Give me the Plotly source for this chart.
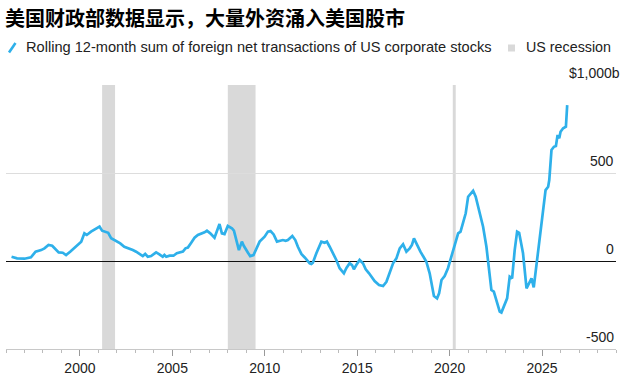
import plotly.graph_objects as go

# ---- data ----
years = [
    1996.30, 1996.60, 1997.00, 1997.35, 1997.60, 1997.90, 1998.08, 1998.30, 1998.50, 1998.70,
    1998.85, 1999.07, 1999.25, 1999.47, 1999.76, 2000.07, 2000.24, 2000.37, 2000.60, 2000.79,
    2000.93, 2001.06, 2001.20, 2001.38, 2001.53, 2001.69, 2001.87, 2002.05, 2002.18, 2002.40,
    2002.68, 2002.86, 2003.04, 2003.22, 2003.40, 2003.53, 2003.67, 2003.85, 2003.98, 2004.12,
    2004.30, 2004.48, 2004.57, 2004.67, 2004.85, 2005.06, 2005.24, 2005.42, 2005.57, 2005.71,
    2005.84, 2006.02, 2006.20, 2006.38, 2006.56, 2006.74, 2006.87, 2007.05, 2007.28, 2007.46,
    2007.55, 2007.68, 2007.82, 2008.00, 2008.22, 2008.33, 2008.46, 2008.60, 2008.76, 2008.87,
    2009.09, 2009.21, 2009.39, 2009.54, 2009.72, 2009.99, 2010.17, 2010.31, 2010.48, 2010.66,
    2010.84, 2010.98, 2011.13, 2011.25, 2011.49, 2011.65, 2011.79, 2011.98, 2012.16, 2012.28,
    2012.43, 2012.52, 2012.60, 2012.79, 2012.93, 2013.06, 2013.24, 2013.36, 2013.51, 2013.69,
    2013.87, 2014.05, 2014.28, 2014.41, 2014.59, 2014.72, 2014.82, 2014.95, 2015.13, 2015.31,
    2015.46, 2015.64, 2015.77, 2015.94, 2016.18, 2016.40, 2016.58, 2016.76, 2016.94, 2017.12,
    2017.30, 2017.48, 2017.66, 2017.84, 2017.96, 2018.07, 2018.20, 2018.42, 2018.60, 2018.74,
    2018.92, 2019.07, 2019.15, 2019.32, 2019.43, 2019.56, 2019.73, 2019.91, 2020.10, 2020.28,
    2020.46, 2020.59, 2020.73, 2020.87, 2021.00, 2021.14, 2021.27, 2021.41, 2021.54, 2021.63,
    2021.72, 2021.81, 2021.99, 2022.13, 2022.26, 2022.39, 2022.53, 2022.71, 2022.80, 2022.93,
    2023.11, 2023.25, 2023.38, 2023.52, 2023.65, 2023.76, 2023.97, 2024.16, 2024.30, 2024.43,
    2024.55, 2024.66, 2024.79, 2024.92, 2025.06, 2025.19, 2025.33, 2025.39, 2025.51, 2025.64,
    2025.75, 2025.84, 2025.93, 2026.00, 2026.14, 2026.29, 2026.36,
]
net_flows_bn = [
    24, 15, 13, 21, 53, 62, 72, 91, 87, 62,
    49, 47, 34, 53, 81, 110, 157, 148, 167, 180,
    186, 195, 172, 163, 160, 129, 119, 110, 100, 81,
    72, 62, 53, 38, 28, 40, 24, 28, 38, 49,
    38, 24, 34, 24, 30, 30, 44, 47, 53, 72,
    76, 104, 132, 148, 155, 163, 172, 157, 132, 189,
    210, 157, 153, 199, 186, 172, 119, 62, 110, 85,
    47, 28, 34, 72, 110, 138, 167, 170, 151, 110,
    115, 119, 115, 119, 142, 119, 81, 40, 20, 6,
    -13, -17, -10, 44, 81, 110, 104, 110, 81, 47,
    6, -41, -70, -41, -13, -23, -47, -23, 6, -13,
    -47, -70, -89, -114, -136, -142, -118, -70, -13, 15,
    72, 95, 53, 72, 91, 129, 97, 53, 21, -4,
    -70, -146, -199, -212, -184, -108, -85, -41, 24, 81,
    157, 167, 214, 271, 365, 385, 399, 365, 308, 261,
    233, 195, 81, -32, -165, -174, -222, -288, -293, -260,
    -212, -89, -99, 62, 167, 160, 44, -155, -127, -99,
    -150, -51, 62, 176, 290, 403, 422, 460, 631, 649,
    653, 716, 697, 734, 754, 763, 886,
]

recession_start = [2001.2, 2008.0, 2020.17]
recession_end = [2001.9, 2009.5, 2020.33]

x_tick_vals = [2000, 2005, 2010, 2015, 2020, 2025]
x_tick_text = ["2000", "2005", "2010", "2015", "2020", "2025"]
y_tick_vals = [1000, 500, 0, -500]
y_tick_text = ["$1,000b", "500", "0", "-500"]

title_text = "美国财政部数据显示，大量外资涌入美国股市"
legend_line_text = "Rolling 12-month sum of foreign net transactions of US corporate stocks"
legend_rec_text = "US recession"

# ---- style ----
W, H = 632, 381
ML, MR, MT, MB = 6, 16, 85, 32
PW, PH = W - ML - MR, H - MT - MB
BLUE = "#2eb0ea"
REC = "#d9d9d9"
FONT = "Liberation Sans, Arial, sans-serif"


def px_x(px):
    return (px - ML) / PW


def px_y(py):
    return (H - MB - py) / PH


fig = go.Figure()
fig.add_trace(go.Scatter(
    x=years, y=net_flows_bn, mode="lines",
    line=dict(color=BLUE, width=2.7), showlegend=False, hoverinfo="x+y",
))

shapes = []
for s, e in zip(recession_start, recession_end):
    shapes.append(dict(type="rect", xref="x", yref="paper", x0=s, x1=e, y0=0, y1=1,
                       fillcolor=REC, line=dict(width=0), layer="below"))
# legend icons
shapes.append(dict(type="line", xref="paper", yref="paper",
                   x0=px_x(9), x1=px_x(15.5), y0=px_y(52.5), y1=px_y(43),
                   line=dict(color=BLUE, width=2.6)))
shapes.append(dict(type="rect", xref="paper", yref="paper",
                   x0=px_x(508), x1=px_x(515), y0=px_y(51.5), y1=px_y(44.5),
                   fillcolor=REC, line=dict(width=0)))

annotations = [
    dict(text=legend_line_text, xref="paper", yref="paper", x=px_x(24), y=px_y(47.5),
         xanchor="left", yanchor="middle", showarrow=False,
         font=dict(family=FONT, size=14.6, color="#222")),
    dict(text=legend_rec_text, xref="paper", yref="paper", x=px_x(524), y=px_y(47.5),
         xanchor="left", yanchor="middle", showarrow=False,
         font=dict(family=FONT, size=14.3, color="#222")),
]
for v, t in zip(y_tick_vals, y_tick_text):
    annotations.append(dict(
        text=t, xref="paper", yref="y", x=1, y=v, xanchor="right", yanchor="bottom",
        xshift=6 if t.endswith("b") else 0, yshift=2, showarrow=False,
        font=dict(family=FONT, size=14, color="#222")))

fig.update_layout(
    width=W, height=H,
    margin=dict(l=ML, r=MR, t=MT, b=MB, pad=0),
    paper_bgcolor="white", plot_bgcolor="white",
    title=dict(text="<b>" + title_text + "</b>", xref="container", yref="container",
               x=5 / W, y=1 - 19 / H, xanchor="left", yanchor="middle",
               font=dict(family="Noto Sans CJK SC", size=20, color="#000")),
    shapes=shapes, annotations=annotations,
    xaxis=dict(range=[1996, 2029], showgrid=False, zeroline=False,
               tickmode="array", tickvals=x_tick_vals, ticktext=x_tick_text,
               ticks="outside", ticklen=6, tickcolor="#999", tickwidth=1,
               showline=True, linecolor="#c8c8c8", linewidth=1,
               tickfont=dict(family=FONT, size=14, color="#222"),
               minor=dict(dtick=1, tick0=1996, ticks="outside", ticklen=3,
                          tickcolor="#bbb", showgrid=False)),
    yaxis=dict(range=[-500, 1000], showgrid=True, gridcolor="#dddddd", gridwidth=1,
               tickvals=y_tick_vals, showticklabels=False, ticks="",
               zeroline=True, zerolinecolor="#111", zerolinewidth=1,
               showline=False),
    showlegend=False,
)

fig.write_html("out.html")
